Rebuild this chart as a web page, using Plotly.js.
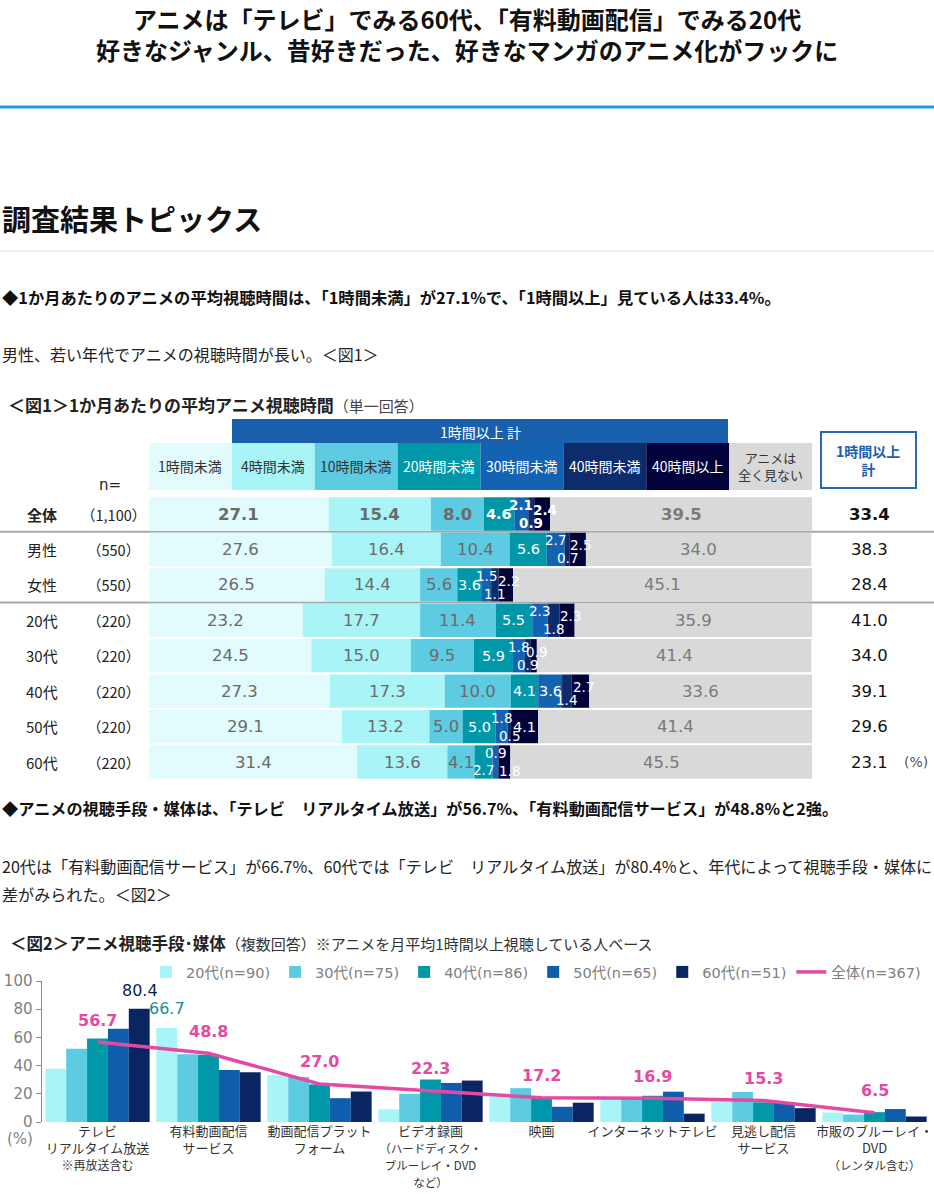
<!DOCTYPE html>
<html><head><meta charset="utf-8">
<script src="https://cdn.plot.ly/plotly-3.0.1.min.js"></script>
<style>html,body{margin:0;padding:0;background:#fff}#chart{width:934px;height:1194px}</style>
</head><body><div id="chart"></div>
<script>
// ---------- Figure 1 data ----------
const fig1Rows = ['全体','男性','女性','20代','30代','40代','50代','60代'];
const fig1N = ['（1,100）','（550）','（550）','（220）','（220）','（220）','（220）','（220）'];
const fig1Segments = ['1時間未満','4時間未満','10時間未満','20時間未満','30時間未満','40時間未満','40時間以上','アニメは<br>全く見ない'];
const lt1h  = [27.1,27.6,26.5,23.2,24.5,27.3,29.1,31.4];
const lt4h  = [15.4,16.4,14.4,17.7,15.0,17.3,13.2,13.6];
const lt10h = [8.0,10.4,5.6,11.4,9.5,10.0,5.0,4.1];
const lt20h = [4.6,5.6,3.6,5.5,5.9,4.1,5.0,2.7];
const lt30h = [2.1,2.7,1.5,2.3,1.8,3.6,1.8,0.9];
const lt40h = [0.9,0.7,1.1,1.8,0.9,1.4,0.5,0.0];
const ge40h = [2.4,2.5,2.2,2.3,0.9,2.7,4.1,1.8];
const never = [39.5,34.0,45.1,35.9,41.4,33.6,41.4,45.5];
const total1hPlus = [33.4,38.3,28.4,41.0,34.0,39.1,29.6,23.1];
const bandLabel = '1時間以上 計';
const totalLabel = '1時間以上<br>計';

// ---------- Figure 2 data ----------
const media = ['テレビ リアルタイム放送','有料動画配信サービス','動画配信プラットフォーム','ビデオ録画','映画','インターネットテレビ','見逃し配信サービス','市販のブルーレイ・DVD'];
const mediaTickText = [
  'テレビ<br>リアルタイム放送<br><span style="font-size:12px">※再放送含む</span>',
  '有料動画配信<br>サービス',
  '動画配信プラット<br>フォーム',
  'ビデオ録画<br><span style="font-size:11.5px">（ハードディスク・</span><br><span style="font-size:11.5px">ブルーレイ・DVD</span><br><span style="font-size:11.5px">など）</span>',
  '映画',
  'インターネットテレビ',
  '見逃し配信<br>サービス',
  '市販のブルーレイ・<br>DVD<br><span style="font-size:11.5px">（レンタル含む）</span>'
];
const age20 = [37.8,66.7,33.3,8.9,18.9,17.8,15.6,6.7];
const age30 = [52.0,48.0,32.0,20.0,24.0,17.3,21.3,5.3];
const age40 = [59.3,47.7,26.7,30.2,16.3,18.6,14.0,7.0];
const age50 = [66.2,36.9,16.9,27.7,10.8,21.5,13.8,9.2];
const age60 = [80.4,35.3,21.6,29.4,13.7,5.9,9.8,3.9];
const overall = [56.7,48.8,27.0,22.3,17.2,16.9,15.3,6.5];
const seriesNames = ['20代(n=90)','30代(n=75)','40代(n=86)','50代(n=65)','60代(n=51)','全体(n=367)'];
const yTicks = [0,20,40,60,80,100];

// ---------- styling / helpers ----------
const W = 934, H = 1194;
const X = p => p / W;
const Y = p => 1 - p / H;
const JP = 'Noto Sans CJK JP, sans-serif';
const NUM = 'DejaVu Sans, Noto Sans CJK JP, sans-serif';
const segColors = ['#e2fbfc','#a8f4f7','#5dcbe2','#0098a8','#1463b2','#0c2c6c','#02023a','#d9d9d9'];
const ageColors = ['#a8f4f7','#5dcbe2','#0098a8','#0f5eac','#0b2462'];
const pink = '#e44aa4';

function txt(text, x, y, o) {
  o = o || {};
  return {text: text, x: X(x), y: Y(y), xref: 'paper', yref: 'paper', showarrow: false,
    xanchor: o.xa || 'left', yanchor: 'middle', align: o.align || 'left',
    font: {size: o.size || 16, color: o.color || '#222', family: o.family || JP}};
}

const traces = [];
const annotations = [];
const shapes = [];

// ---------- Figure 1 bars (stacked via base) ----------
const segVals = [lt1h, lt4h, lt10h, lt20h, lt30h, lt40h, ge40h, never];
const cum = fig1Rows.map(() => 0);
segVals.forEach((arr, s) => {
  const base = cum.slice();
  traces.push({type: 'bar', orientation: 'h', x: arr, y: fig1Rows, base: base,
    xaxis: 'x', yaxis: 'y', offsetgroup: 'fig1', name: fig1Segments[s],
    marker: {color: segColors[s], line: {width: 0}}, showlegend: false, hoverinfo: 'skip'});
  arr.forEach((v, r) => {
    const mid = base[r] + v / 2;
    cum[r] += v;
    if (v <= 0) return;
    let ys = 0, xs = 0, size = 16.5;
    if (s >= 3 && s <= 6 && v < 3) {
      size = 13.5;
      ys = s === 3 ? -8 : s === 4 ? 9 : s === 5 ? -9 : 4;
      if (s === 6) { xs = 3; if (lt40h[r] === 0) { ys = -9; xs = 5; } }
    } else if (s >= 3 && s <= 6) { size = 14.5; }
    const color = s < 3 ? '#6b6b6b' : s < 7 ? '#ffffff' : '#7a7a7a';
    const label = v.toFixed(1);
    annotations.push({text: r === 0 ? '<b>' + label + '</b>' : label, x: mid, y: fig1Rows[r],
      xref: 'x', yref: 'y', showarrow: false, yshift: ys, xshift: xs,
      font: {size: size, color: color, family: NUM}});
  });
});

// row labels, n, totals
fig1Rows.forEach((row, r) => {
  annotations.push({text: r === 0 ? '<b>' + row + '</b>' : row, x: X(42), y: row, xref: 'paper', yref: 'y',
    showarrow: false, xanchor: 'center', font: {size: 15, color: '#222', family: JP}});
  annotations.push({text: fig1N[r], x: X(113), y: row, xref: 'paper', yref: 'y',
    showarrow: false, xanchor: 'center', font: {size: 14.5, color: '#222', family: JP}});
  const t = total1hPlus[r].toFixed(1);
  annotations.push({text: r === 0 ? '<b>' + t + '</b>' : t, x: X(869), y: row, xref: 'paper', yref: 'y',
    showarrow: false, xanchor: 'center', font: {size: 16.5, color: '#111', family: NUM}});
});
annotations.push({text: '(%)', x: X(916), y: fig1Rows[7], xref: 'paper', yref: 'y', showarrow: false,
  xanchor: 'center', font: {size: 14, color: '#555', family: NUM}});
annotations.push(txt('n=', 110, 485, {xa: 'center', size: 15, family: NUM}));

// header band and column boxes
shapes.push({type: 'rect', xref: 'paper', yref: 'paper', x0: X(232), x1: X(728), y0: Y(443), y1: Y(419),
  fillcolor: '#1a5fac', line: {width: 0}});
annotations.push(txt(bandLabel, 480, 432, {xa: 'center', size: 14, color: '#ffffff'}));
const colW = (812 - 149) / 8;
fig1Segments.forEach((lab, i) => {
  const x0 = 149 + i * colW;
  shapes.push({type: 'rect', xref: 'paper', yref: 'paper', x0: X(x0), x1: X(x0 + colW), y0: Y(490), y1: Y(443),
    fillcolor: segColors[i], line: {width: 0}});
  annotations.push(txt(lab, x0 + colW / 2, 466, {xa: 'center', align: 'center', size: i === 7 ? 13 : 14,
    color: (i >= 3 && i <= 6) ? '#ffffff' : '#333333'}));
});
shapes.push({type: 'rect', xref: 'paper', yref: 'paper', x0: X(821), x1: X(916), y0: Y(488), y1: Y(432),
  fillcolor: '#ffffff', line: {color: '#2b68b0', width: 2}});
annotations.push(txt('<b>' + totalLabel + '</b>', 868, 460, {xa: 'center', align: 'center', size: 14, color: '#1f5fae'}));

// separator lines
[0.5, 2.5].forEach(yv => shapes.push({type: 'line', xref: 'paper', yref: 'y', x0: 0, x1: 1, y0: yv, y1: yv,
  line: {color: '#a8a8a8', width: 2}, layer: 'below'}));

// ---------- Figure 2 ----------
[age20, age30, age40, age50, age60].forEach((arr, i) => {
  traces.push({type: 'bar', x: media, y: arr, name: seriesNames[i], xaxis: 'x2', yaxis: 'y2',
    marker: {color: ageColors[i], line: {width: 0}}, hoverinfo: 'skip'});
});
traces.push({type: 'scatter', mode: 'lines', x: media, y: overall, name: seriesNames[5], xaxis: 'x2', yaxis: 'y2',
  line: {color: pink, width: 3.5}, hoverinfo: 'skip'});
overall.forEach((v, i) => annotations.push({text: '<b>' + v.toFixed(1) + '</b>', x: media[i], y: v, xref: 'x2', yref: 'y2',
  showarrow: false, yshift: 22, font: {size: 16, color: pink, family: NUM}}));
annotations.push({text: age60[0].toFixed(1), x: media[0], y: age60[0], xref: 'x2', yref: 'y2', showarrow: false,
  xshift: 42, yshift: 18, font: {size: 16, color: '#0b1f55', family: NUM}});
annotations.push({text: age20[1].toFixed(1), x: media[1], y: age20[1], xref: 'x2', yref: 'y2', showarrow: false,
  xshift: -42, yshift: 19, font: {size: 16, color: '#1e8a9b', family: NUM}});
annotations.push(txt('(%)', 20, 1139, {xa: 'center', size: 15, color: '#808080', family: NUM}));

// ---------- page text ----------
annotations.push(txt('<b>アニメは「テレビ」でみる60代、「有料動画配信」でみる20代</b>', 467, 19, {xa: 'center', size: 24, color: '#111'}));
annotations.push(txt('<b>好きなジャンル、昔好きだった、好きなマンガのアニメ化がフックに</b>', 467, 50, {xa: 'center', size: 24, color: '#111'}));
shapes.push({type: 'line', xref: 'paper', yref: 'paper', x0: 0, x1: 1, y0: Y(107), y1: Y(107), line: {color: '#1a9de0', width: 3}});
annotations.push(txt('<b>調査結果トピックス</b>', 0, 218, {size: 29, color: '#111'}));
shapes.push({type: 'line', xref: 'paper', yref: 'paper', x0: 0, x1: 1, y0: Y(251), y1: Y(251), line: {color: '#e3e3e3', width: 1}});
annotations.push(txt('<b>◆1か月あたりのアニメの平均視聴時間は、「1時間未満」が27.1%で、「1時間以上」見ている人は33.4%。</b>', 0, 297, {size: 16.3, color: '#111'}));
annotations.push(txt('男性、若い年代でアニメの視聴時間が長い。＜図1＞', 0, 354, {size: 16, color: '#222'}));
annotations.push(txt('<b>＜図1＞1か月あたりの平均アニメ視聴時間</b><span style="font-size:15px;color:#444">（単一回答）</span>', 6, 405, {size: 17, color: '#222'}));
annotations.push(txt('<b>◆アニメの視聴手段・媒体は、「テレビ　リアルタイム放送」が56.7%、「有料動画配信サービス」が48.8%と2強。</b>', 0, 808, {size: 16.2, color: '#111'}));
annotations.push(txt('20代は「有料動画配信サービス」が66.7%、60代では「テレビ　リアルタイム放送」が80.4%と、年代によって視聴手段・媒体に', 0, 866, {size: 16.1, color: '#222'}));
annotations.push(txt('差がみられた。＜図2＞', 0, 894, {size: 16.1, color: '#222'}));
annotations.push(txt('<b>＜図2＞アニメ視聴手段･媒体</b><span style="font-size:15px;color:#333">（複数回答）※アニメを月平均1時間以上視聴している人ベース</span>', 8, 943, {size: 16.5, color: '#222'}));

const layout = {
  width: W, height: H, margin: {l: 0, r: 0, t: 0, b: 0},
  paper_bgcolor: '#ffffff', plot_bgcolor: 'rgba(0,0,0,0)',
  font: {family: JP, color: '#222'},
  barmode: 'group', bargap: 0.06, bargroupgap: 0,
  xaxis: {domain: [X(149), X(812)], range: [0, 100], visible: false, fixedrange: true, anchor: 'y'},
  yaxis: {domain: [Y(781), Y(495)], type: 'category', categoryorder: 'array', categoryarray: fig1Rows,
    autorange: 'reversed', visible: false, anchor: 'x'},
  xaxis2: {domain: [X(42), X(930)], type: 'category', anchor: 'y2', tickvals: media, ticktext: mediaTickText,
    tickangle: 0, tickfont: {size: 13, color: '#333', family: JP}, ticks: '', showline: false, showgrid: false, zeroline: false},
  yaxis2: {domain: [Y(1122), Y(981)], range: [0, 100], anchor: 'x2', tickvals: yTicks,
    showline: true, linecolor: '#8c8c8c', linewidth: 1.5, ticks: 'outside', ticklen: 5, tickcolor: '#8c8c8c',
    tickfont: {size: 15, color: '#808080', family: NUM}, showgrid: false, zeroline: false},
  showlegend: true,
  legend: {orientation: 'h', x: X(146), y: Y(972), xanchor: 'left', yanchor: 'middle',
    font: {size: 14.5, color: '#808080', family: NUM}, itemwidth: 30, bgcolor: 'rgba(0,0,0,0)', traceorder: 'normal'},
  annotations: annotations, shapes: shapes
};
Plotly.newPlot('chart', traces, layout, {displayModeBar: false, staticPlot: true});
</script>
</body></html>
